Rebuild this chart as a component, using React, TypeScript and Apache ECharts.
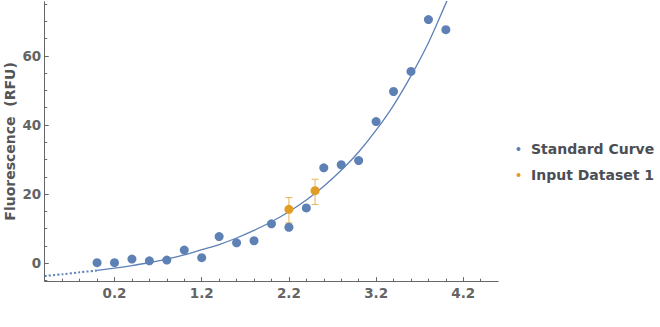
import React, { useEffect, useRef } from "react";
import * as echarts from "echarts";

// Standard curve samples
const stdX = [0.0, 0.2, 0.4, 0.6, 0.8, 1.0, 1.2, 1.4, 1.6, 1.8, 2.0, 2.2, 2.4, 2.6, 2.8, 3.0, 3.2, 3.4, 3.6, 3.8, 4.0];
const stdY = [0.15, 0.15, 1.2, 0.7, 0.9, 3.8, 1.6, 7.7, 5.9, 6.5, 11.4, 10.4, 16.0, 27.6, 28.5, 29.7, 41.0, 49.7, 55.5, 70.5, 67.6];

// Input dataset with error bars
const inX = [2.2, 2.5];
const inY = [15.6, 21.0];
const inLow = [11.7, 17.0];
const inHigh = [19.0, 24.3];

// Fitted curve (solid part over data range)
const fitX = [0.0, 0.2, 0.4, 0.6, 0.8, 1.0, 1.2, 1.4, 1.6, 1.8, 2.0, 2.2, 2.4, 2.6, 2.8, 3.0, 3.2, 3.4, 3.6, 3.8, 4.0, 4.04];
const fitY = [-2.1, -1.45, -0.7, 0.2, 1.2, 2.4, 3.9, 5.4, 7.3, 9.5, 12.0, 14.9, 18.3, 22.3, 26.9, 32.2, 38.5, 45.7, 54.2, 63.8, 75.2, 77.5];
// Extrapolated (dotted) part
const extX = [-0.6, -0.4, -0.2, 0.0];
const extY = [-3.7, -3.2, -2.65, -2.1];

// Axis ticks
const xMajor = { min: 0.2, max: 4.2, step: 1 };
const yMajor = { min: 0, max: 60, step: 20 };
const xMinorStep = 0.2;
const yMinorStep = 5;

const BLUE = "#5E81B5";
const ORANGE = "#E19C24";
const FONT = "DejaVu Sans";

export default function App() {
  const ref = useRef<HTMLDivElement>(null);
  useEffect(() => {
    if (!ref.current) return;
    const chart = echarts.init(ref.current, undefined, { renderer: "svg" });
    const W = 660, H = 327;
    const X0 = 114.5, XS = 87.2, Y0 = 263.2, YS = 3.455;
    const px = (v: number) => X0 + (v - 0.2) * XS;
    const py = (v: number) => Y0 - v * YS;
    const xr = [-0.6, 4.6];
    const yr = [-5.2, 75.7];
    const xm = [-0.6, 4.4];
    const ym = [-5, 75];
    const axisY = py(yr[0]);
    const axisX = px(xr[0]);
    const axisColor = "#666666";
    const tickLbl = { color: "#646464", fontFamily: FONT, fontWeight: "bold" as const, fontSize: 13.5 };

    const option: any = {
      animation: false,
      grid: [
        { left: px(xr[0]), right: W - px(xr[1]), top: py(yr[1]), bottom: H - py(yr[0]) },
        { left: px(xm[0]), right: W - px(xm[1]), top: py(ym[1]), bottom: H - py(ym[0]) },
        { left: px(xMajor.min), right: W - px(xMajor.max), top: py(yMajor.max), bottom: H - py(yMajor.min) },
      ],
      xAxis: [
        {
          gridIndex: 0, type: "value", min: xr[0], max: xr[1],
          axisLine: { show: true, onZero: false, lineStyle: { color: axisColor, width: 1 } },
          axisTick: { show: false }, axisLabel: { show: false }, splitLine: { show: false },
        },
        {
          gridIndex: 1, type: "value", min: xm[0], max: xm[1], interval: xMinorStep,
          offset: axisY - py(ym[0]),
          axisLine: { show: false, onZero: false },
          axisTick: { show: true, inside: true, length: 2.5, lineStyle: { color: axisColor, width: 1 } },
          axisLabel: { show: false }, splitLine: { show: false },
        },
        {
          gridIndex: 2, type: "value", min: xMajor.min, max: xMajor.max, interval: xMajor.step,
          offset: axisY - py(yMajor.min),
          axisLine: { show: false, onZero: false },
          axisTick: { show: true, inside: true, length: 4, lineStyle: { color: axisColor, width: 1 } },
          axisLabel: { show: true, margin: 4.5, ...tickLbl, formatter: (v: number) => v.toFixed(1) },
          splitLine: { show: false },
        },
      ],
      yAxis: [
        {
          gridIndex: 0, type: "value", min: yr[0], max: yr[1],
          axisLine: { show: true, onZero: false, lineStyle: { color: axisColor, width: 1 } },
          axisTick: { show: false }, axisLabel: { show: false }, splitLine: { show: false },
        },
        {
          gridIndex: 1, type: "value", min: ym[0], max: ym[1], interval: yMinorStep,
          axisLine: { show: false, onZero: false },
          axisTick: { show: true, inside: true, length: 2.5, lineStyle: { color: axisColor, width: 1 } },
          axisLabel: { show: false }, splitLine: { show: false },
        },
        {
          gridIndex: 2, type: "value", min: yMajor.min, max: yMajor.max, interval: yMajor.step,
          offset: px(xMajor.min) - axisX,
          axisLine: { show: false, onZero: false },
          axisTick: { show: true, inside: true, length: 4, lineStyle: { color: axisColor, width: 1 } },
          axisLabel: { show: true, margin: 3.5, ...tickLbl },
          splitLine: { show: false },
        },
      ],
      legend: {
        orient: "vertical",
        left: 511.5,
        top: 137,
        itemWidth: 15,
        itemHeight: 4,
        itemGap: 12,
        icon: "circle",
        textStyle: { fontFamily: FONT, fontWeight: "bold", fontSize: 14, color: "#4a4e55", lineHeight: 14 },
        data: ["Standard Curve", "Input Dataset 1"],
        selectedMode: false,
      },
      graphic: [
        {
          type: "text",
          x: 9.5,
          y: py((yr[0] + yr[1]) / 2),
          rotation: Math.PI / 2,
          style: {
            text: "Fluorescence  (RFU)",
            align: "center",
            verticalAlign: "middle",
            fontFamily: FONT,
            fontWeight: "bold",
            fontSize: 14,
            fill: "#555555",
          },
        },
      ],
      series: [
        {
          name: "fit-ext",
          type: "line",
          xAxisIndex: 0, yAxisIndex: 0,
          data: extX.map((x, i) => [x, extY[i]]),
          smooth: 0.3,
          showSymbol: false,
          lineStyle: { color: BLUE, width: 2, type: [2, 2.2] },
          z: 1,
        },
        {
          name: "fit",
          type: "line",
          xAxisIndex: 0, yAxisIndex: 0,
          data: fitX.map((x, i) => [x, fitY[i]]),
          smooth: 0.3,
          showSymbol: false,
          clip: true,
          lineStyle: { color: BLUE, width: 1.3 },
          z: 1,
        },
        {
          name: "Standard Curve",
          type: "scatter",
          xAxisIndex: 0, yAxisIndex: 0,
          data: stdX.map((x, i) => [x, stdY[i]]),
          symbolSize: 9,
          itemStyle: { color: BLUE, opacity: 1 },
          z: 3,
        },
        {
          name: "errbars",
          type: "custom",
          xAxisIndex: 0, yAxisIndex: 0,
          data: inX.map((x, i) => [x, inLow[i], inHigh[i]]),
          encode: { x: 0, y: [1, 2] },
          renderItem: (params: any, api: any) => {
            const x = api.value(0);
            const lo = api.coord([x, api.value(1)]);
            const hi = api.coord([x, api.value(2)]);
            const hw = 3.5;
            const st = { stroke: "#EBB965", lineWidth: 1.1 };
            return {
              type: "group",
              children: [
                { type: "line", shape: { x1: lo[0], y1: lo[1], x2: hi[0], y2: hi[1] }, style: st },
                { type: "line", shape: { x1: lo[0] - hw, y1: lo[1], x2: lo[0] + hw, y2: lo[1] }, style: st },
                { type: "line", shape: { x1: hi[0] - hw, y1: hi[1], x2: hi[0] + hw, y2: hi[1] }, style: st },
              ],
            };
          },
          z: 2,
        },
        {
          name: "Input Dataset 1",
          type: "scatter",
          xAxisIndex: 0, yAxisIndex: 0,
          data: inX.map((x, i) => [x, inY[i]]),
          symbolSize: 9,
          itemStyle: { color: ORANGE, opacity: 1 },
          z: 4,
        },
      ],
    };
    chart.setOption(option);
    return () => chart.dispose();
  }, []);
  return (
    <div
      ref={ref}
      style={{ position: "absolute", left: 0, top: 0, width: 660, height: 327 }}
    />
  );
}
